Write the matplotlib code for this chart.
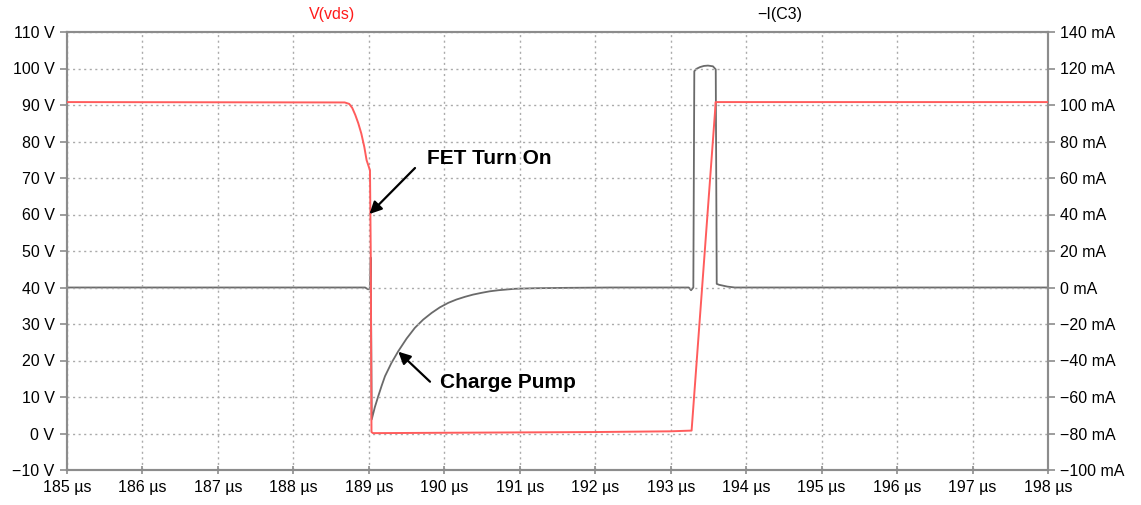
import matplotlib.pyplot as plt
from matplotlib.ticker import FuncFormatter, MultipleLocator

plt.rcParams['font.family'] = ['Liberation Sans', 'DejaVu Sans']

# V(vds) trace, time in us, volts
t_vds = [185.0, 188.68, 188.74, 188.78, 188.82, 188.86, 188.90, 188.94, 188.97, 189.015, 189.025,
         189.035, 189.055, 190.0, 191.0, 192.0, 193.0, 193.277, 193.587, 193.595, 198.0]
v_vds = [90.8, 90.7, 90.3, 89.2, 87.3, 85.0, 82.2, 78.5, 74.9, 72.1, 50.0,
         0.4, 0.1, 0.2, 0.3, 0.4, 0.6, 0.8, 88.0, 90.8, 90.8]

# -I(C3) trace, time in us, milliamps
t_ic3 = [185.0, 188.95, 188.99, 189.015, 189.025, 189.032, 189.038, 189.08, 189.125, 189.17,
         189.214, 189.30, 189.39, 189.50, 189.61, 189.72, 189.833, 189.94, 190.053, 190.16,
         190.274, 190.38, 190.496, 190.60, 190.716, 190.937, 191.2, 191.6,
         192.2, 193.24, 193.27, 193.30, 193.313, 193.34, 193.39, 193.44, 193.494, 193.56, 193.597,
         193.61, 193.64, 193.75, 193.85, 198.0]
i_ic3 = [0.0, 0.0, -1.0, -0.5, 16.4, -30.0, -72.3, -65.5, -59.5, -53.8,
         -48.6, -41.3, -34.9, -28.0, -22.1, -17.6, -13.9, -10.9, -8.4, -6.6,
         -5.1, -3.9, -2.9, -2.1, -1.5, -0.7, -0.4, -0.2,
         0.0, 0.0, -1.5, 0.0, 118.5, 119.8, 120.8, 121.4, 121.6, 121.2, 119.5,
         2.0, 1.5, 0.5, 0.0, 0.0]

x_ticks = list(range(185, 199))

fig = plt.figure(figsize=(11.41, 5.05), dpi=100)
ax = fig.add_axes([67/1141, 1-470/505, (1048-67)/1141, (470-32)/505])
ax2 = ax.twinx()

ax2.plot(t_ic3, i_ic3, color='#6a6a6a', lw=1.3, zorder=2)
ax.plot(t_vds, v_vds, color='#ff5c5c', lw=1.4, zorder=3)
ax.set_zorder(ax2.get_zorder() + 1)
ax.patch.set_visible(False)

ax.set_xlim(185, 198)
ax.set_ylim(-10, 110)
ax2.set_ylim(-100, 140)
ax.set_xticks(x_ticks)
ax.xaxis.set_major_formatter(FuncFormatter(lambda v, p: '%d µs' % v))
ax.yaxis.set_major_locator(MultipleLocator(10))
ax.yaxis.set_major_formatter(FuncFormatter(lambda v, p: ('%d V' % v).replace('-', '\u2212')))
ax2.yaxis.set_major_locator(MultipleLocator(20))
ax2.yaxis.set_major_formatter(FuncFormatter(lambda v, p: ('%d mA' % v).replace('-', '\u2212')))

ax.grid(True, color='#aaaaaa', linestyle=(0, (1.5, 2.5)), lw=1.0)
for a in (ax, ax2):
    for s in a.spines.values():
        s.set_color('#8c8c8c')
        s.set_linewidth(1.5)
    a.tick_params(labelsize=11.5, colors='#8c8c8c', labelcolor='black', width=1.2, length=6)
ax.tick_params(axis='x', direction='inout', pad=4)
ax.tick_params(axis='y', direction='out', length=5, pad=4)
ax2.tick_params(axis='y', direction='out', length=5, pad=4)

fig.text(332/1141, 1-15/505, 'V(vds)', color='#ff1a1a', fontsize=11.5, ha='center', va='center')
fig.text(780/1141, 1-15/505, '\u2212I(C3)', color='black', fontsize=11.5, ha='center', va='center')


def px(x, y):
    # pixel position in the picture -> data coords of the volt axis
    return (185 + (x - 67) / 75.46, (433.5 - y) / 3.65)


arrow = dict(arrowstyle='-|>', color='black', lw=1.6, mutation_scale=18, shrinkA=0, shrinkB=0)
ax.annotate('', xy=px(369.5, 214), xytext=px(415, 168), arrowprops=arrow)
ax.text(*px(427, 158), 'FET Turn On', fontsize=15, fontweight='bold', va='center', ha='left')
ax.annotate('', xy=px(398.3, 351.7), xytext=px(430, 381.7), arrowprops=arrow)
ax.text(*px(440, 383), 'Charge Pump', fontsize=15, fontweight='bold', va='center', ha='left')

fig.savefig('out.png', dpi=100)
